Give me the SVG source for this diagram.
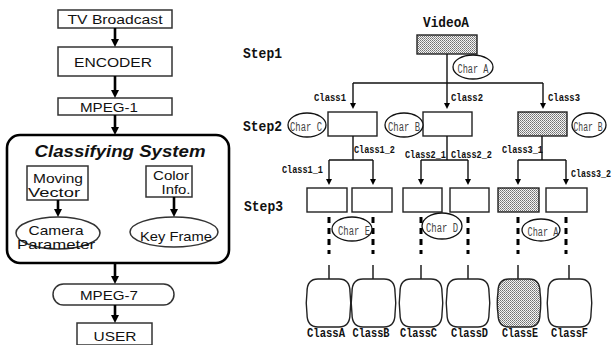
<svg xmlns="http://www.w3.org/2000/svg" width="613" height="345" viewBox="0 0 613 345">
<defs>
  <pattern id="dots" width="2" height="2" patternUnits="userSpaceOnUse">
    <rect width="2" height="2" fill="#f4f4f4"/>
    <rect width="1" height="1" fill="#707070"/>
    <rect x="1" y="1" width="1" height="1" fill="#909090"/>
  </pattern>
  <marker id="ahThick" viewBox="0 0 10 10" refX="0" refY="5" markerUnits="userSpaceOnUse" markerWidth="8" markerHeight="8" orient="auto">
    <path d="M0,0 L10,5 L0,10 z" fill="#000"/>
  </marker>
  <marker id="ahThin" viewBox="0 0 10 10" refX="0" refY="5" markerUnits="userSpaceOnUse" markerWidth="9" markerHeight="6" orient="auto">
    <path d="M0,0 L10,5 L0,10 z" fill="#000"/>
  </marker>
</defs>
<style>
  .lbox { fill: #fff; stroke: #333; stroke-width: 1.5; }
  .ltxt { font-family: "Liberation Sans", Arial, sans-serif; font-size: 13.5px; fill: #111; text-anchor: middle; }
  .title { font-family: "Liberation Sans", Arial, sans-serif; font-size: 17px; font-weight: bold; font-style: italic; fill: #111; text-anchor: middle; }
  .thick { stroke: #000; stroke-width: 2.6; fill: none; marker-end: url(#ahThick); }
  .rbox { fill: #fff; stroke: #222; stroke-width: 1.4; }
  .shade { fill: url(#dots); stroke: #222; stroke-width: 1.4; }
  .ell { fill: #fff; stroke: #111; stroke-width: 1.3; }
  .step { font-family: "Liberation Mono", "Courier New", monospace; font-size: 15px; font-weight: bold; fill: #111; }
  .cls { font-family: "Liberation Mono", "Courier New", monospace; font-size: 11px; font-weight: bold; fill: #111; }
  .chr { font-family: "Liberation Mono", "Courier New", monospace; font-size: 12px; fill: #444; text-anchor: middle; }
  .out { font-family: "Liberation Mono", "Courier New", monospace; font-size: 12.5px; font-weight: bold; fill: #111; text-anchor: middle; }
  .line { stroke: #111; stroke-width: 1.4; fill: none; }
  .arr { stroke: #111; stroke-width: 1.4; fill: none; marker-end: url(#ahThin); }
  .dash { stroke: #000; stroke-width: 3; fill: none; stroke-dasharray: 6 5; }
</style>

<!-- Left pipeline -->
<g id="tv-broadcast"><rect class="lbox" x="58" y="10" width="114" height="18"/><text class="ltxt" x="115" y="24" textLength="95" lengthAdjust="spacingAndGlyphs">TV Broadcast</text></g>
<g id="encoder"><rect class="lbox" x="58" y="47" width="114" height="29"/><text class="ltxt" x="113" y="67" textLength="78" lengthAdjust="spacingAndGlyphs">ENCODER</text></g>
<g id="mpeg1"><rect class="lbox" x="58" y="98" width="114" height="17"/><text class="ltxt" x="109" y="112" textLength="58" lengthAdjust="spacingAndGlyphs">MPEG-1</text></g>
<g id="classifying-system"><rect x="7" y="135" width="222" height="128" rx="13" ry="13" fill="#fff" stroke="#000" stroke-width="2.6"/><text class="title" x="120" y="157" textLength="171" lengthAdjust="spacingAndGlyphs">Classifying System</text></g>
<g id="moving-vector"><rect class="lbox" x="27" y="166" width="61" height="34"/><text class="ltxt" x="58" y="183" textLength="50" lengthAdjust="spacingAndGlyphs">Moving</text><text class="ltxt" x="54" y="197" textLength="52" lengthAdjust="spacingAndGlyphs">Vector</text></g>
<g id="color-info"><rect class="lbox" x="146" y="166" width="46" height="31"/><text class="ltxt" x="171" y="180" textLength="36" lengthAdjust="spacingAndGlyphs">Color</text><text class="ltxt" x="176" y="194" textLength="29" lengthAdjust="spacingAndGlyphs">Info.</text></g>
<g id="camera-parameter"><ellipse class="lbox" cx="58" cy="233" rx="42" ry="16"/><text class="ltxt" x="56" y="235" textLength="55" lengthAdjust="spacingAndGlyphs">Camera</text><text class="ltxt" x="56" y="249" textLength="78" lengthAdjust="spacingAndGlyphs">Parameter</text></g>
<g id="key-frame"><ellipse class="lbox" cx="174" cy="232" rx="44" ry="15"/><text class="ltxt" x="176" y="241" textLength="72" lengthAdjust="spacingAndGlyphs">Key Frame</text></g>
<g id="mpeg7"><rect class="lbox" x="53" y="284" width="121" height="21" rx="10.5" ry="10.5"/><text class="ltxt" x="109" y="300" textLength="58" lengthAdjust="spacingAndGlyphs">MPEG-7</text></g>
<g id="user"><rect class="lbox" x="77" y="323" width="75" height="22"/><text class="ltxt" x="115" y="341" textLength="43" lengthAdjust="spacingAndGlyphs">USER</text></g>

<!-- Step labels -->
<g id="step-labels">
  <text class="step" x="243" y="58" textLength="39" lengthAdjust="spacingAndGlyphs">Step1</text>
  <text class="step" x="243" y="131" textLength="39" lengthAdjust="spacingAndGlyphs">Step2</text>
  <text class="step" x="244" y="211" textLength="39" lengthAdjust="spacingAndGlyphs">Step3</text>
</g>

<!-- Right tree nodes -->
<g id="videoA"><text class="step" x="423" y="27" textLength="46" lengthAdjust="spacingAndGlyphs">VideoA</text><rect class="shade" x="417" y="35" width="60" height="19"/></g>
<g id="char-a-top"><ellipse class="ell" cx="473" cy="67" rx="20" ry="12"/><text class="chr" x="473" y="73" textLength="31" lengthAdjust="spacingAndGlyphs">Char A</text></g>

<g id="class1"><rect class="rbox" x="328" y="112" width="49" height="24"/></g>
<g id="char-c"><ellipse class="ell" cx="307" cy="125" rx="19" ry="12"/><text class="chr" x="306" y="131" textLength="32" lengthAdjust="spacingAndGlyphs">Char C</text></g>
<g id="class2"><rect class="rbox" x="423" y="112" width="49" height="24"/></g>
<g id="char-b-mid"><ellipse class="ell" cx="404" cy="125" rx="19" ry="12"/><text class="chr" x="404" y="131" textLength="32" lengthAdjust="spacingAndGlyphs">Char B</text></g>
<g id="class3"><rect class="shade" x="518" y="112" width="49" height="24"/></g>
<g id="char-b-right"><ellipse class="ell" cx="589" cy="125" rx="17" ry="12"/><text class="chr" x="588" y="131" textLength="29" lengthAdjust="spacingAndGlyphs">Char B</text></g>

<g id="class1-1"><rect class="rbox" x="307" y="188" width="40" height="24"/></g>
<g id="class1-2"><rect class="rbox" x="352" y="188" width="40" height="24"/></g>
<g id="class2-1"><rect class="rbox" x="403" y="188" width="39" height="24"/></g>
<g id="class2-2"><rect class="rbox" x="450" y="188" width="39" height="24"/></g>
<g id="class3-1"><rect class="shade" x="498" y="188" width="41" height="24"/></g>
<g id="class3-2"><rect class="rbox" x="546" y="188" width="41" height="24"/></g>

<!-- Connectors -->
<g id="connectors">
  <line class="thick" x1="115" y1="28" x2="115" y2="39"/>
  <line class="thick" x1="115" y1="76" x2="115" y2="90"/>
  <line class="thick" x1="115" y1="115" x2="115" y2="127"/>
  <line class="thick" x1="58" y1="200" x2="58" y2="209"/>
  <line class="thick" x1="174" y1="197" x2="174" y2="209"/>
  <line class="thick" x1="115" y1="263" x2="115" y2="276"/>
  <line class="thick" x1="115" y1="305" x2="115" y2="315"/>

  <line class="line" x1="447" y1="54" x2="447" y2="83"/>
  <line class="line" x1="353" y1="83" x2="543" y2="83"/>
  <line class="arr" x1="353" y1="83" x2="353" y2="103"/>
  <line class="arr" x1="447" y1="83" x2="447" y2="103"/>
  <line class="arr" x1="543" y1="83" x2="543" y2="103"/>

  <line class="line" x1="353" y1="136" x2="353" y2="160"/>
  <line class="line" x1="447" y1="136" x2="447" y2="160"/>
  <line class="line" x1="542" y1="136" x2="542" y2="160"/>
  <line class="line" x1="329" y1="160" x2="373" y2="160"/>
  <line class="line" x1="421" y1="160" x2="468" y2="160"/>
  <line class="line" x1="518" y1="160" x2="566" y2="160"/>
  <line class="arr" x1="329" y1="160" x2="329" y2="179"/>
  <line class="arr" x1="373" y1="160" x2="373" y2="179"/>
  <line class="arr" x1="421" y1="160" x2="421" y2="179"/>
  <line class="arr" x1="468" y1="160" x2="468" y2="179"/>
  <line class="arr" x1="518" y1="160" x2="518" y2="179"/>
  <line class="arr" x1="566" y1="160" x2="566" y2="179"/>

  <line class="dash" x1="329" y1="217" x2="329" y2="254"/>
  <line class="dash" x1="373" y1="217" x2="373" y2="254"/>
  <line class="dash" x1="421" y1="217" x2="421" y2="254"/>
  <line class="dash" x1="468" y1="217" x2="468" y2="254"/>
  <line class="dash" x1="518" y1="217" x2="518" y2="254"/>
  <line class="dash" x1="566" y1="217" x2="566" y2="254"/>

  <line class="arr" x1="329" y1="265" x2="329" y2="284"/>
  <line class="arr" x1="373" y1="265" x2="373" y2="284"/>
  <line class="arr" x1="421" y1="265" x2="421" y2="284"/>
  <line class="arr" x1="468" y1="265" x2="468" y2="284"/>
  <line class="arr" x1="518" y1="265" x2="518" y2="284"/>
  <line class="arr" x1="569" y1="265" x2="569" y2="284"/>

  <text class="cls" x="314" y="101" textLength="32" lengthAdjust="spacingAndGlyphs">Class1</text>
  <text class="cls" x="451" y="101" textLength="32" lengthAdjust="spacingAndGlyphs">Class2</text>
  <text class="cls" x="548" y="101" textLength="32" lengthAdjust="spacingAndGlyphs">Class3</text>
  <text class="cls" x="354" y="153" textLength="41" lengthAdjust="spacingAndGlyphs">Class1_2</text>
  <text class="cls" x="282" y="173" textLength="41" lengthAdjust="spacingAndGlyphs">Class1_1</text>
  <text class="cls" x="405" y="158" textLength="41" lengthAdjust="spacingAndGlyphs">Class2_1</text>
  <text class="cls" x="451" y="158" textLength="41" lengthAdjust="spacingAndGlyphs">Class2_2</text>
  <text class="cls" x="502" y="153" textLength="41" lengthAdjust="spacingAndGlyphs">Class3_1</text>
  <text class="cls" x="571" y="177" textLength="40" lengthAdjust="spacingAndGlyphs">Class3_2</text>
</g>

<!-- Char ellipses at step 3 -->
<g id="char-e"><ellipse class="ell" cx="352" cy="229" rx="20" ry="12"/><text class="chr" x="354" y="235" textLength="32" lengthAdjust="spacingAndGlyphs">Char E</text></g>
<g id="char-d"><ellipse class="ell" cx="442" cy="226" rx="20" ry="13"/><text class="chr" x="442" y="232" textLength="32" lengthAdjust="spacingAndGlyphs">Char D</text></g>
<g id="char-a-low"><ellipse class="ell" cx="541" cy="230" rx="19" ry="11"/><text class="chr" x="543" y="236" textLength="31" lengthAdjust="spacingAndGlyphs">Char A</text></g>

<!-- Output classes -->
<g id="classA"><path class="rbox" d="M318,279 H339 Q350,279 350,292 Q351.5,303 350,314 Q350,327 339,327 H318 Q307,327 307,314 Q305.5,303 307,292 Q307,279 318,279 Z"/><text class="out" x="326" y="337" textLength="38" lengthAdjust="spacingAndGlyphs">ClassA</text></g>
<g id="classB"><path class="rbox" d="M363,279 H384 Q395,279 395,292 Q396.5,303 395,314 Q395,327 384,327 H363 Q352,327 352,314 Q350.5,303 352,292 Q352,279 363,279 Z"/><text class="out" x="371" y="337" textLength="37" lengthAdjust="spacingAndGlyphs">ClassB</text></g>
<g id="classC"><path class="rbox" d="M411,279 H431 Q442,279 442,292 Q443.5,303 442,314 Q442,327 431,327 H411 Q400,327 400,314 Q398.5,303 400,292 Q400,279 411,279 Z"/><text class="out" x="418.5" y="337" textLength="37" lengthAdjust="spacingAndGlyphs">ClassC</text></g>
<g id="classD"><path class="rbox" d="M458,279 H478 Q489,279 489,292 Q490.5,303 489,314 Q489,327 478,327 H458 Q447,327 447,314 Q445.5,303 447,292 Q447,279 458,279 Z"/><text class="out" x="469.5" y="337" textLength="37" lengthAdjust="spacingAndGlyphs">ClassD</text></g>
<g id="classE"><path class="shade" d="M509,279 H529 Q540,279 540,292 Q541.5,303 540,314 Q540,327 529,327 H509 Q498,327 498,314 Q496.5,303 498,292 Q498,279 509,279 Z"/><text class="out" x="520" y="337" textLength="36" lengthAdjust="spacingAndGlyphs">ClassE</text></g>
<g id="classF"><path class="rbox" d="M559,279 H580 Q591,279 591,292 Q592.5,303 591,314 Q591,327 580,327 H559 Q548,327 548,314 Q546.5,303 548,292 Q548,279 559,279 Z"/><text class="out" x="569.5" y="337" textLength="37" lengthAdjust="spacingAndGlyphs">ClassF</text></g>
</svg>
